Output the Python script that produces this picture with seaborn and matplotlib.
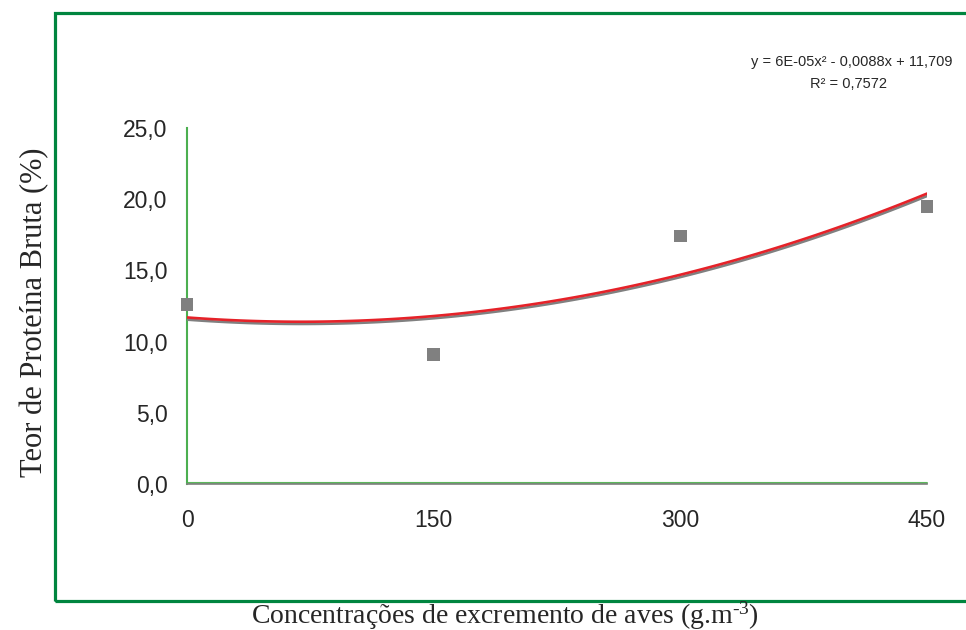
import numpy as np
import pandas as pd
import matplotlib
matplotlib.use("Agg")
import matplotlib.pyplot as plt
import matplotlib.patheffects as pe
from matplotlib.patches import Rectangle
import seaborn as sns

# dados
concentracao = [0, 150, 300, 450]
proteina = [12.6, 9.1, 17.4, 19.5]
yticks = [0, 5, 10, 15, 20, 25]
xticks = [0, 150, 300, 450]

df = pd.DataFrame({"conc": concentracao, "pb": proteina})

sns.set_style("white")
plt.rcParams["font.family"] = ["Liberation Sans", "DejaVu Sans"]
plt.rcParams["mathtext.fontset"] = "custom"
plt.rcParams["mathtext.rm"] = "Liberation Serif"
plt.rcParams["mathtext.it"] = "Liberation Serif"

fig = plt.figure(figsize=(9.66, 6.3), dpi=100)
ax = fig.add_axes([0.1936, 0.2317, 0.766, 0.565])

# linha de tendência polinomial (ordem 2)
sns.regplot(x="conc", y="pb", data=df, order=2, ci=None, scatter=False,
            truncate=True, ax=ax,
            line_kws=dict(color="#e52229", lw=1.9, zorder=3,
                          path_effects=[pe.SimpleLineShadow(offset=(0.4, -1.6), shadow_color="#808080", alpha=1),
                                        pe.Normal()]))

sns.scatterplot(x="conc", y="pb", data=df, marker="s", s=80, color="#808080",
                edgecolor="none", ax=ax, clip_on=False, zorder=4)

ax.set_xlim(0, 450)
ax.set_ylim(0, 25)
ax.set_yticks(yticks)
ax.set_yticklabels([f"{v:.1f}".replace(".", ",") for v in yticks], fontsize=16.5)
ax.set_xticks(xticks)
ax.set_xticklabels([str(v) for v in xticks], fontsize=16.5)
ax.tick_params(axis="y", direction="out", length=6, width=1, color="#555555", pad=8)
ax.tick_params(axis="x", length=0, pad=18)
ax.set_xlabel("")
ax.set_ylabel("")

for s in ["top", "right"]:
    ax.spines[s].set_visible(False)
ax.spines["left"].set_color("#4caf50")
ax.spines["left"].set_linewidth(1.5)
ax.spines["bottom"].set_color("#808080")
ax.spines["bottom"].set_linewidth(1.2)
ax.axhline(0.1, color="#5cb85c", lw=1.5, clip_on=False, zorder=2)

# equação e R²
fig.text(0.882, 0.901, "y = 6E-05x² - 0,0088x + 11,709", ha="center", va="center", fontsize=10.5)
fig.text(0.878, 0.866, "R² = 0,7572", ha="center", va="center", fontsize=10.5)

# rótulos dos eixos
fig.text(0.523, 0.0105, r"Concentrações de excremento de aves (g.m$^{\text{-3}}$)", ha="center", va="baseline",
         fontsize=20, family="Liberation Serif")
fig.text(0.036, 0.505, "Teor de Proteína Bruta (%)", ha="center", va="center", rotation=90,
         fontsize=22, family="Liberation Serif")

# moldura verde
fig.patches.append(Rectangle((0.0569, 0.046), 1.0, 0.933, transform=fig.transFigure,
                             fill=False, edgecolor="#00853f", lw=2.3))

fig.savefig("out.png", dpi=100)
